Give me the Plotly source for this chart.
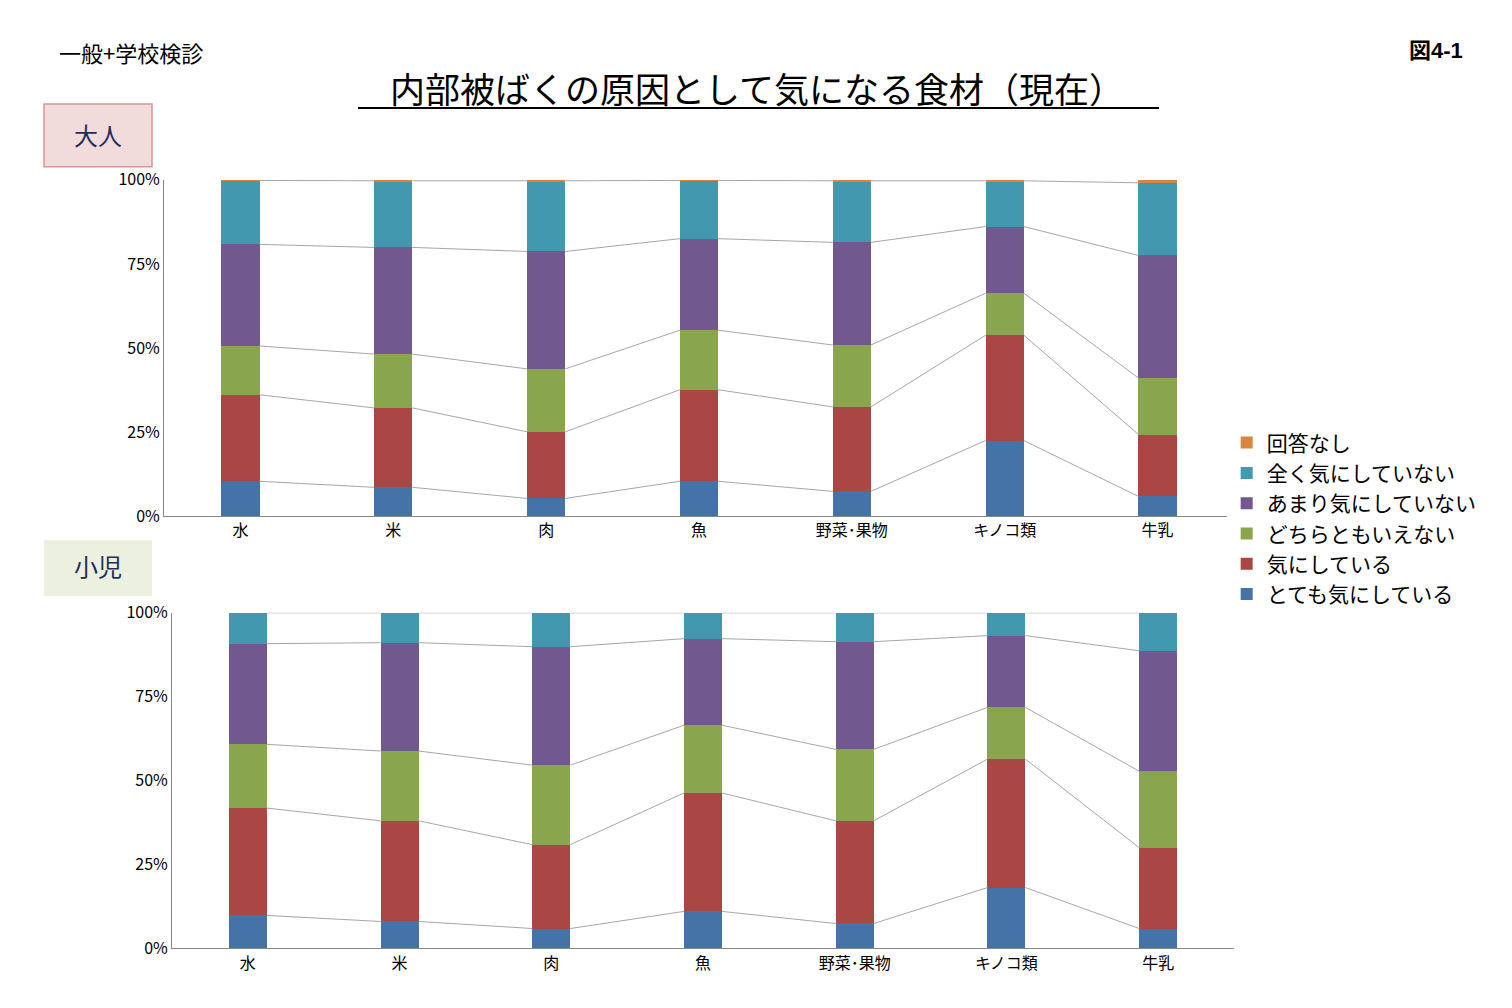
import plotly.graph_objects as go

categories = ["水", "米", "肉", "魚", "野菜･果物", "キノコ類", "牛乳"]
series_names = ["とても気にしている", "気にしている", "どちらともいえない", "あまり気にしていない", "全く気にしていない", "回答なし"]
colors = ["#4572A7", "#AA4643", "#89A54E", "#71588F", "#4198AF", "#DB843D"]

adult = [
    [10.4, 8.6, 5.3, 10.4, 7.4, 22.5, 5.9],
    [25.7, 23.6, 19.8, 27.2, 25.1, 31.3, 18.4],
    [14.5, 16.0, 18.7, 17.7, 18.4, 12.5, 16.8],
    [30.2, 31.7, 34.9, 27.2, 30.5, 19.8, 36.4],
    [19.0, 19.8, 21.0, 17.3, 18.3, 13.6, 21.6],
    [0.2, 0.3, 0.3, 0.2, 0.3, 0.3, 0.9],
]
child = [
    [9.8, 8.0, 5.9, 11.0, 7.4, 18.1, 5.9],
    [32.0, 30.0, 25.0, 35.3, 30.6, 38.3, 24.1],
    [19.0, 20.8, 23.7, 20.2, 21.3, 15.4, 22.8],
    [30.0, 32.3, 35.3, 25.8, 32.1, 21.4, 35.9],
    [9.2, 8.9, 10.1, 7.7, 8.6, 6.8, 11.3],
    [0.0, 0.0, 0.0, 0.0, 0.0, 0.0, 0.0],
]
yticks = [0, 25, 50, 75, 100]
yticklabels = ["0%", "25%", "50%", "75%", "100%"]


def py(t):
    return 1 - ((t - 18.5) / 0.9806) / 1008


def px(t):
    return (t - 6) / 1512


fig = go.Figure()
xs = list(range(len(categories)))
W = 0.25


def add_panel(data, xa, ya, showleg):
    for i, (name, vals) in enumerate(zip(series_names, data)):
        fig.add_trace(go.Bar(x=xs, y=vals, name=name, marker_color=colors[i], width=W,
                             xaxis=xa, yaxis=ya, showlegend=showleg, legendgroup=name,
                             marker_line_width=0))
    cum = [0] * len(categories)
    for i in range(len(data) - 1):
        cum = [c + v for c, v in zip(cum, data[i])]
        lx, ly = [], []
        for k in range(len(categories) - 1):
            lx += [xs[k] + W / 2, xs[k + 1] - W / 2, None]
            ly += [cum[k], cum[k + 1], None]
        fig.add_trace(go.Scatter(x=lx, y=ly, mode="lines", line=dict(color="#A6A6A6", width=1),
                                 xaxis=xa, yaxis=ya, showlegend=False, hoverinfo="skip"))


add_panel(adult, "x", "y", True)
add_panel(child, "x2", "y2", False)

axcommon = dict(showgrid=False, showline=True, linecolor="#868686", linewidth=1,
                tickfont=dict(size=16, color="black", family="Noto Sans CJK JP"))
fig.update_layout(
    width=1512, height=1008, margin=dict(l=0, r=0, t=0, b=0),
    paper_bgcolor="white", plot_bgcolor="white", barmode="stack",
    font=dict(family="Noto Sans CJK JP", color="black"),
    xaxis=dict(domain=[px(162), px(1232)], range=[-0.5, 6.5], tickvals=xs, ticktext=categories, ticks="", anchor="y", **axcommon),
    yaxis=dict(domain=[py(516), py(178)], range=[0, 100], tickvals=yticks, ticktext=yticklabels, ticks="", anchor="x", **axcommon),
    xaxis2=dict(domain=[px(170), px(1232)], range=[-0.5, 6.5], tickvals=xs, ticktext=categories, ticks="", anchor="y2", **axcommon),
    yaxis2=dict(domain=[py(950), py(613)], range=[0, 100], tickvals=yticks, ticktext=yticklabels, ticks="", anchor="x2", **axcommon),
    legend=dict(x=0.806, y=0.592, xanchor="left", yanchor="top", traceorder="reversed",
                font=dict(size=21, family="Noto Sans CJK JP"), itemwidth=30, tracegroupgap=15),
)
fig.add_annotation(x=px(755), y=py(85), xref="paper", yref="paper", text="内部被ばくの原因として気になる食材（現在）",
                   xanchor="center", yanchor="middle", showarrow=False, font=dict(size=35))
fig.add_shape(type="line", xref="paper", yref="paper", x0=px(356), x1=px(1157), y0=py(106), y1=py(106),
              line=dict(color="black", width=2))
fig.add_annotation(x=px(55), y=py(50), xref="paper", yref="paper", text="一般+学校検診", xanchor="left",
                   yanchor="middle", showarrow=False, font=dict(size=22))
fig.add_annotation(x=px(1463), y=py(48), xref="paper", yref="paper", text="<b>図4-1</b>", xanchor="right",
                   yanchor="middle", showarrow=False, font=dict(size=22, family="Liberation Sans, Noto Sans CJK JP"))
fig.add_shape(type="rect", xref="paper", yref="paper", x0=px(42), x1=px(150), y0=py(165), y1=py(102),
              fillcolor="#F2DCDB", line=dict(color="#D99694", width=1.5))
fig.add_annotation(x=px(96), y=py(133), xref="paper", yref="paper", text="大人", showarrow=False,
                   xanchor="center", yanchor="middle", font=dict(size=24, color="#1F2D5A"))
fig.add_shape(type="rect", xref="paper", yref="paper", x0=px(42), x1=px(150), y0=py(596), y1=py(540),
              fillcolor="#EBF1DE", line=dict(width=0))
fig.add_annotation(x=px(96), y=py(565), xref="paper", yref="paper", text="小児", showarrow=False,
                   xanchor="center", yanchor="middle", font=dict(size=24, color="#1F2D5A"))
fig.write_html("out.html")
